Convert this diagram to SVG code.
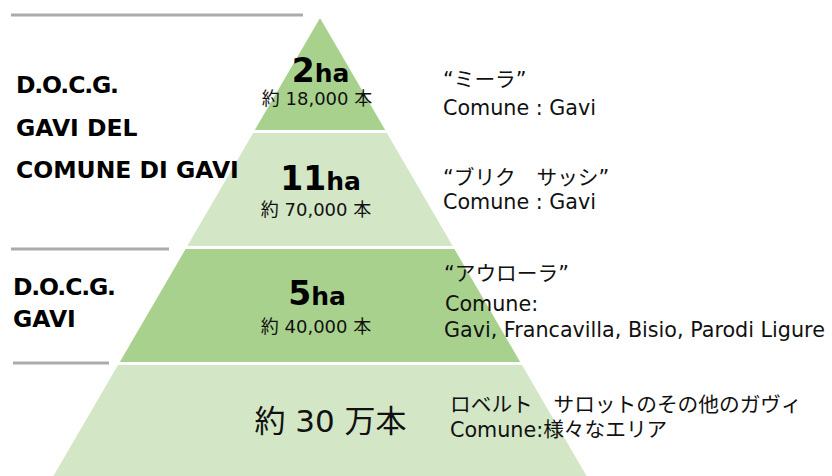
<svg xmlns="http://www.w3.org/2000/svg" width="832" height="476" viewBox="0 0 832 476">
  <style>
    .dark { fill: #A9D18E; }
    .light { fill: #D3E7C6; }
    .sep { stroke: #ABABAB; stroke-width: 3; fill: none; }
    .cat { font-family: "DejaVu Sans", "Noto Sans CJK JP", sans-serif; font-weight: bold; font-size: 23.5px; fill: #000; }
    .ha { font-family: "DejaVu Sans", sans-serif; font-weight: bold; fill: #000; text-anchor: middle; }
    .num { font-family: "DejaVu Sans", "Noto Sans CJK JP", sans-serif; font-size: 18px; fill: #111; text-anchor: middle; }
    .big { font-size: 31px; }
    .desc { font-family: "DejaVu Sans", "Noto Sans CJK JP", sans-serif; font-size: 20.7px; fill: #111; }
  </style>

  <g id="separators">
    <line class="sep" x1="11" y1="15" x2="303" y2="15"/>
    <line class="sep" x1="11" y1="249" x2="169" y2="249"/>
    <line class="sep" x1="13" y1="363" x2="109" y2="363"/>
  </g>

  <g id="tier1">
    <polygon class="dark" points="320,18 385.2,130 254.8,130"/>
    <text class="ha" x="320.5" y="82"><tspan font-size="33">2</tspan><tspan font-size="25">ha</tspan></text>
    <text class="num" x="317" y="105">約 18,000 本</text>
  </g>

  <g id="tier2">
    <polygon class="light" points="253.1,133 386.9,133 452.7,246 187.3,246"/>
    <text class="ha" x="320.5" y="190"><tspan font-size="33">11</tspan><tspan font-size="25">ha</tspan></text>
    <text class="num" x="316" y="216">約 70,000 本</text>
  </g>

  <g id="tier3">
    <polygon class="dark" points="185.6,249 454.4,249 520.2,362 119.8,362"/>
    <text class="ha" x="317" y="305"><tspan font-size="33">5</tspan><tspan font-size="25">ha</tspan></text>
    <text class="num" x="316" y="333">約 40,000 本</text>
  </g>

  <g id="tier4">
    <polygon class="light" points="118,365 522,365 586.6,476 53.4,476"/>
    <text class="num big" x="330.5" y="432">約 30 万本</text>
  </g>

  <g id="label-docg-gavi-del-comune">
    <text class="cat" x="16" y="93" textLength="103" lengthAdjust="spacing">D.O.C.G.</text>
    <text class="cat" x="16" y="136">GAVI DEL</text>
    <text class="cat" x="16" y="178">COMUNE DI GAVI</text>
  </g>

  <g id="label-docg-gavi">
    <text class="cat" x="13" y="295" textLength="103" lengthAdjust="spacing">D.O.C.G.</text>
    <text class="cat" x="13" y="327">GAVI</text>
  </g>

  <g id="desc-mira">
    <text class="desc" x="443" y="87">“ミーラ”</text>
    <text class="desc" x="443" y="115">Comune : Gavi</text>
  </g>

  <g id="desc-bric-sassi">
    <text class="desc" x="443" y="185">“ブリク　サッシ”</text>
    <text class="desc" x="443" y="209">Comune : Gavi</text>
  </g>

  <g id="desc-aurora">
    <text class="desc" x="444" y="281">“アウローラ”</text>
    <text class="desc" x="445" y="311">Comune:</text>
    <text class="desc" x="444" y="337">Gavi, Francavilla, Bisio, Parodi Ligure</text>
  </g>

  <g id="desc-other">
    <text class="desc" x="450" y="412">ロベルト　サロットのその他のガヴィ</text>
    <text class="desc" x="450" y="437">Comune:様々なエリア</text>
  </g>
</svg>
